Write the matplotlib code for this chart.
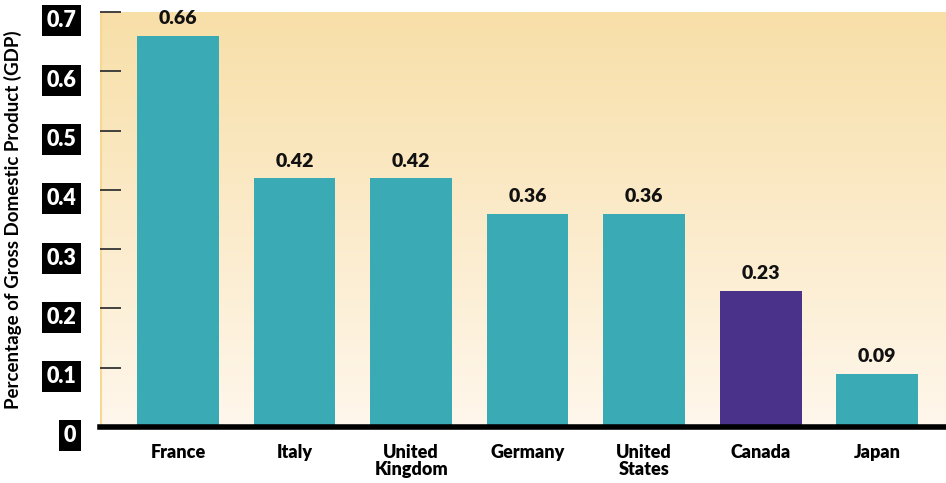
import matplotlib
matplotlib.use("Agg")
import matplotlib.pyplot as plt
import matplotlib.transforms as mtransforms
import numpy as np
from matplotlib.colors import LinearSegmentedColormap

countries = ["France", "Italy", "United\nKingdom", "Germany", "United\nStates", "Canada", "Japan"]
values = [0.66, 0.42, 0.42, 0.36, 0.36, 0.23, 0.09]
value_labels = ["0.66", "0.42", "0.42", "0.36", "0.36", "0.23", "0.09"]
yticks = [0, 0.1, 0.2, 0.3, 0.4, 0.5, 0.6, 0.7]
ytick_labels = ["0", "0.1", "0.2", "0.3", "0.4", "0.5", "0.6", "0.7"]
ylabel = "Percentage of Gross Domestic Product (GDP)"

teal = "#3aabb5"
purple = "#4a318a"
colors = [purple if c == "Canada" else teal for c in countries]

plt.rcParams['font.family'] = ['Lato', 'DejaVu Sans']

fig = plt.figure(figsize=(9.46, 4.83), dpi=100)
ax = fig.add_axes([100/946, 56/483, 846/946, 415/483])

x = np.arange(len(countries))
ax.set_xlim(-0.67, 6.59)
ax.set_ylim(0, 0.7)

# gradient background
cmap = LinearSegmentedColormap.from_list("bg", ["#fff7ec", "#f8dfa8"])
grad = np.linspace(0, 1, 256).reshape(-1, 1)
ax.imshow(grad, aspect='auto', cmap=cmap, origin='lower',
          extent=[-0.67, 6.59, 0, 0.7], zorder=0)
ax.axvline(-0.67, color="#f6d893", lw=3, zorder=1)

bars = ax.bar(x, values, width=0.70, color=colors, zorder=2)
for xi, v, lab in zip(x, values, value_labels):
    ax.annotate(lab, (xi, v), xytext=(0, 6), textcoords="offset points",
                ha="center", va="bottom", fontsize=14, fontweight="heavy",
                color="#111111")

for s in ["top", "right", "left"]:
    ax.spines[s].set_visible(False)
ax.spines["bottom"].set_linewidth(4)
ax.spines["bottom"].set_color("black")
ax.spines["bottom"].set_zorder(5)

ax.set_xticks(x)
ax.set_xticklabels(countries, fontsize=13, fontweight="heavy", linespacing=1.05,
                   va="top")
ax.tick_params(axis="x", length=0, pad=12)

ax.set_yticks(yticks)
ax.set_yticklabels(ytick_labels, fontsize=15.5, fontweight="heavy", color="white")
ax.tick_params(axis="y", direction="in", length=15, width=1.3, color="#333333",
               pad=17)
offset = mtransforms.ScaledTranslation(0, -5/72, fig.dpi_scale_trans)
for t in ax.get_yticklabels():
    t.set_bbox(dict(facecolor="black", edgecolor="none", pad=3.5))
    t.set_transform(t.get_transform() + offset)

ax.set_ylabel(ylabel, fontsize=13.5, fontweight="bold")
ax.yaxis.set_label_coords(-78/846, 0.5)

fig.savefig("out.png", dpi=100, facecolor="white")
